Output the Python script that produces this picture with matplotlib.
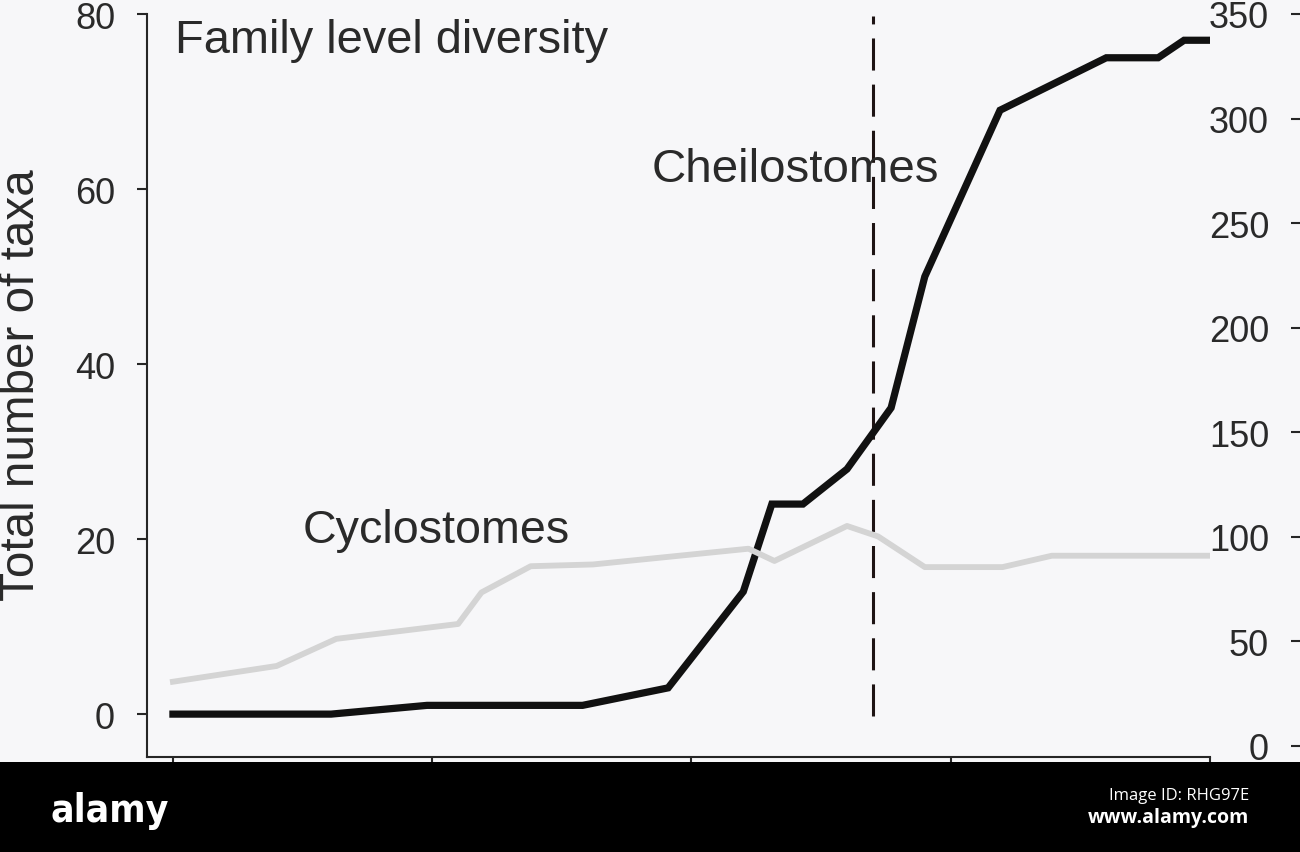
import matplotlib
matplotlib.use("Agg")
import matplotlib.pyplot as plt
from matplotlib.patches import Rectangle

# ---------------- data ----------------
# x is measured in tick intervals (tick labels are not visible in the source)
cheil_x = [0.0, 0.61, 0.98, 1.58, 1.91, 2.20, 2.31, 2.43, 2.60, 2.77, 2.90, 3.19, 3.60, 3.80, 3.90, 3.99]
cheil_y = [0, 0, 1, 1, 3, 14, 24, 24, 28, 35, 50, 69, 75, 75, 77, 77]

cyclo_x = [0.0, 0.40, 0.63, 1.10, 1.19, 1.38, 1.62, 2.22, 2.32, 2.60, 2.72, 2.90, 3.20, 3.39, 3.99]
cyclo_y = [3.7, 5.5, 8.6, 10.3, 13.9, 16.9, 17.1, 18.9, 17.5, 21.5, 20.3, 16.8, 16.8, 18.1, 18.1]

boundary_x = 2.70

x_ticks = [0, 1, 2, 3, 4]
left_ticks = [0, 20, 40, 60, 80]
right_ticks = [0, 50, 100, 150, 200, 250, 300, 350]

title_text = "Family level diversity"
cheil_label = "Cheilostomes"
cyclo_label = "Cyclostomes"
y_label = "Total number of taxa"

# ---------------- figure ----------------
W, H = 1300, 853
bg = "#f7f7f9"
plt.rcParams["font.family"] = ["Liberation Sans", "DejaVu Sans"]

fig = plt.figure(figsize=(W / 100, H / 100), dpi=100, facecolor=bg)

# black banner at the bottom
fig.patches.append(Rectangle((0, 0), 1, (H - 763) / H, transform=fig.transFigure,
                             facecolor="black", edgecolor="none", zorder=0))

ax_l, ax_r, ax_b, ax_t = 147, 1210, 758, 15
ax = fig.add_axes([ax_l / W, (H - ax_b) / H, (ax_r - ax_l) / W, (ax_b - ax_t) / H])
ax.set_facecolor("none")

spc = "#262626"
txt = "#2a2a2a"
ax.plot(cheil_x, cheil_y, color="#111111", lw=5.2, solid_joinstyle="miter", zorder=3)
ax.plot(cyclo_x, cyclo_y, color="#d4d4d4", lw=4.2, zorder=4)
ax.axvline(boundary_x, ymin=0.055, ymax=0.997, color="#1e1414", lw=2.2,
           dashes=(10.5, 4.6), zorder=2)

ax.set_xlim(-0.1, 4.0)
ax.set_ylim(-4.9, 80)
ax.set_xticks(x_ticks)
ax.set_xticklabels([])
ax.set_yticks(left_ticks)
for s in ["top", "right"]:
    ax.spines[s].set_visible(False)
for s in ["left", "bottom"]:
    ax.spines[s].set_color(spc)
    ax.spines[s].set_linewidth(1.5)
ax.tick_params(axis="y", direction="out", length=7, width=1.5, color=spc,
               labelsize=26, labelcolor=txt, pad=16)
ax.tick_params(axis="x", direction="out", length=6, width=1.5, color=spc)

ax.text(0.008, 75.7, title_text, fontsize=33.8, color=txt, va="baseline", ha="left")
ax.text(1.848, 60.9, cheil_label, fontsize=34.2, color=txt, va="baseline", ha="left")
ax.text(0.501, 19.7, cyclo_label, fontsize=33.6, color=txt, va="baseline", ha="left")

fig.text(34 / W, 1 - 385 / H, y_label, rotation=90, rotation_mode="anchor",
         ha="center", va="baseline", fontsize=34.3, color=txt)

# neighbouring panel's axis visible at the right edge
ax2 = fig.add_axes([1301 / W, (H - ax_b) / H, 0.4, (ax_b - ax_t) / H])
ax2.set_facecolor("none")
ax2.set_ylim(-5.26, 350)
ax2.set_yticks(right_ticks)
ax2.set_xticks([])
for s in ["top", "right", "bottom"]:
    ax2.spines[s].set_visible(False)
ax2.spines["left"].set_color(spc)
ax2.tick_params(axis="y", direction="out", length=7, width=1.5, color=spc,
                labelsize=26, labelcolor=txt, pad=16)

# banner texts
fig.text(50 / W, (H - 822) / H, "alamy", fontsize=28, fontweight="bold",
         fontstretch="condensed", family=["DejaVu Sans"], color="white",
         ha="left", va="baseline")
fig.text(1249 / W, (H - 800) / H, "Image ID: RHG97E", fontsize=12,
         family=["Open Sans", "DejaVu Sans"], color="white", ha="right", va="baseline")
fig.text(1249 / W, (H - 823) / H, "www.alamy.com", fontsize=14, fontweight="bold",
         family=["Open Sans", "DejaVu Sans"], color="white", ha="right", va="baseline")

fig.savefig("out.png", dpi=100, facecolor=bg)
